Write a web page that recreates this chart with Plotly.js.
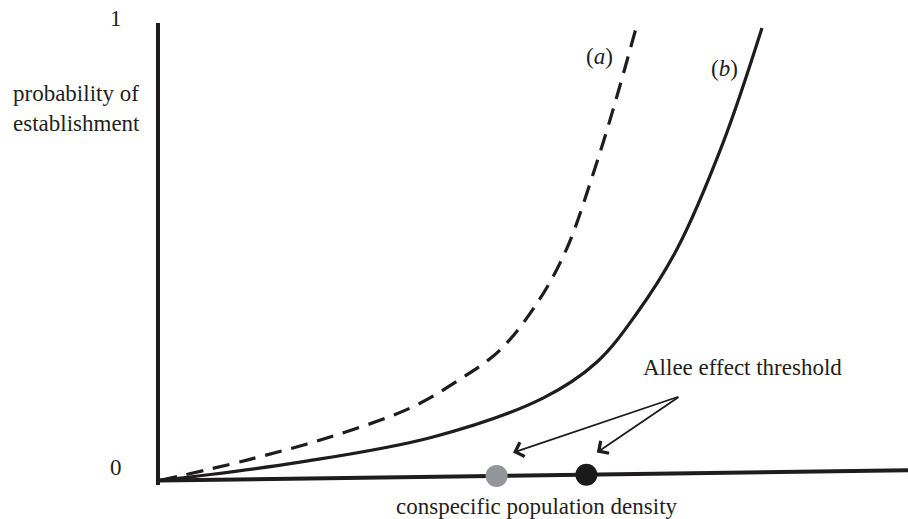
<!DOCTYPE html>
<html>
<head>
<meta charset="utf-8">
<script src="https://cdn.plot.ly/plotly-3.0.1.min.js"></script>
<style>html,body{margin:0;padding:0;background:#fff;}#chart{width:908px;height:519px;}</style>
</head>
<body>
<div id="chart"></div>
<script>
// Curve (a): dashed, curve (b): solid  (x = density, y = probability)
const curveAX = [0, 11.76, 22.73, 33.42, 39.71, 45.45, 50.67, 54.41, 58.02, 60.56, 63.64];
const curveAY = [0, 0.045, 0.095, 0.158, 0.217, 0.285, 0.394, 0.508, 0.676, 0.810, 0.989];
const curveBX = [0, 18.72, 36.50, 51.20, 58.42, 63.77, 69.12, 75.27, 80.48];
const curveBY = [0, 0.040, 0.095, 0.180, 0.259, 0.366, 0.506, 0.738, 0.989];
// Density axis line (slightly rising)
const axisX = [0, 100];
const axisY = [0, 0.022];
// Allee effect thresholds
const thresholdX = [45.0, 57.0];
const thresholdY = [0.0099, 0.0125];
const thresholdColors = ['#939598', '#1a1a1a'];
// Labels
const yTickLabels = ['0', '1'];
const curveLabels = ['(<i>a</i>)', '(<i>b</i>)'];

const FONT = 'Liberation Serif, Times New Roman, serif';
const INK = '#1f1c1d';

const traces = [
  {x: axisX, y: axisY, mode: 'lines', line: {color: INK, width: 4}, hoverinfo: 'skip'},
  {x: curveAX, y: curveAY, mode: 'lines', line: {color: INK, width: 3.2, dash: '17px,10px', shape: 'spline', smoothing: 1}, hoverinfo: 'skip'},
  {x: curveBX, y: curveBY, mode: 'lines', line: {color: INK, width: 3.2, shape: 'spline', smoothing: 1}, hoverinfo: 'skip'},
  {x: thresholdX, y: thresholdY, mode: 'markers', marker: {size: 22, color: thresholdColors, line: {width: 0}}, hoverinfo: 'skip', cliponaxis: false}
];

const ann = [];
const base = {font: {family: FONT, size: 23, color: '#231f20'}, showarrow: false, xanchor: 'center', yanchor: 'middle'};
const P = {xref: 'paper', yref: 'paper'};
const D = {xref: 'x', yref: 'y'};
ann.push(Object.assign({}, base, P, {x: -0.0588, y: 0.0368, text: yTickLabels[0]}));
ann.push(Object.assign({}, base, P, {x: -0.0588, y: 1.0087, text: yTickLabels[1]}));
ann.push(Object.assign({}, base, P, {x: -0.111, y: 0.816, text: 'probability of<br>establishment', align: 'left'}));
ann.push(Object.assign({}, base, P, {x: 0.504, y: -0.0476, text: 'conspecific population density'}));
ann.push(Object.assign({}, base, D, {x: 58.8, y: 0.927, text: curveLabels[0]}));
ann.push(Object.assign({}, base, D, {x: 75.5, y: 0.901, text: curveLabels[1]}));
ann.push(Object.assign({}, base, D, {x: 77.9, y: 0.247, text: 'Allee effect threshold'}));
// arrows
const tail = {x: 69.5, y: 0.184};
const heads = [{x: 47.2, y: 0.061}, {x: 58.4, y: 0.061}];
heads.forEach(h => ann.push({
  x: h.x, y: h.y, xref: 'x', yref: 'y', axref: 'x', ayref: 'y', ax: tail.x, ay: tail.y,
  text: '', showarrow: true, arrowhead: 4, arrowsize: 1.6, arrowwidth: 1.8, arrowcolor: INK, standoff: 0, startstandoff: 0
}));

const layout = {
  width: 908, height: 519,
  margin: {l: 160, r: 0, t: 23, b: 34, pad: 0},
  paper_bgcolor: '#fff', plot_bgcolor: '#fff',
  showlegend: false,
  xaxis: {range: [0, 100], showgrid: false, zeroline: false, showticklabels: false, ticks: '', showline: false, fixedrange: true},
  yaxis: {range: [-0.01, 1], showgrid: false, zeroline: false, showticklabels: false, ticks: '', showline: true, linewidth: 4, linecolor: INK, fixedrange: true},
  annotations: ann
};

Plotly.newPlot('chart', traces, layout, {staticPlot: true, displayModeBar: false});
</script>
</body>
</html>
